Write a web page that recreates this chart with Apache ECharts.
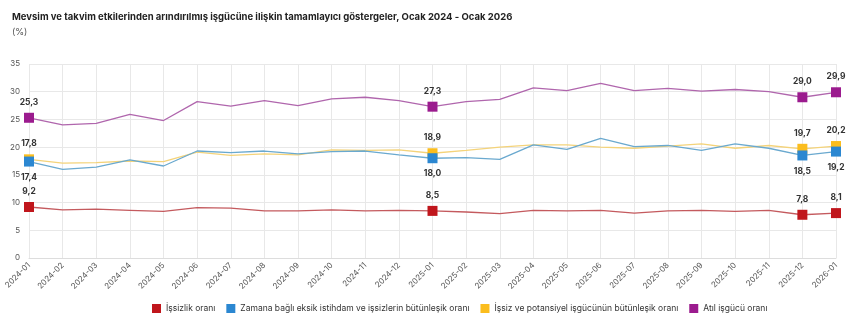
<!DOCTYPE html>
<html>
<head>
<meta charset="utf-8">
<script src="https://cdn.jsdelivr.net/npm/echarts@6/dist/echarts.min.js"></script>
<style>html,body{margin:0;padding:0;background:#fff}#c{width:850px;height:323px}</style>
</head>
<body>
<div id="c"></div>
<script>
const categories = ['2024-01','2024-02','2024-03','2024-04','2024-05','2024-06','2024-07','2024-08','2024-09','2024-10','2024-11','2024-12','2025-01','2025-02','2025-03','2025-04','2025-05','2025-06','2025-07','2025-08','2025-09','2025-10','2025-11','2025-12','2026-01'];
const issizlik = [9.2,8.7,8.8,8.6,8.4,9.1,9.0,8.5,8.5,8.7,8.5,8.6,8.5,8.3,8.0,8.6,8.5,8.6,8.1,8.5,8.6,8.4,8.6,7.8,8.1];
const zamana = [17.4,16.0,16.4,17.7,16.6,19.3,19.0,19.3,18.8,19.2,19.3,18.6,18.0,18.1,17.8,20.4,19.6,21.6,20.1,20.3,19.4,20.6,19.8,18.5,19.2];
const potansiyel = [17.8,17.1,17.2,17.5,17.4,19.1,18.5,18.8,18.6,19.5,19.4,19.5,18.9,19.4,20.0,20.4,20.4,20.0,19.8,20.2,20.6,19.8,20.3,19.7,20.2];
const atil = [25.3,24.0,24.3,25.9,24.8,28.2,27.4,28.4,27.5,28.7,29.0,28.4,27.3,28.2,28.6,30.7,30.2,31.5,30.2,30.6,30.1,30.4,30.0,29.0,29.9];
const markedIdx = [0,12,23,24];
const yTicks = [0,5,10,15,20,25,30,35];

const fmt = v => v.toFixed(1).replace('.', ',');

function build(name, vals, color, lineColor, pos, z) {
  return {
    name, type: 'line', z,
    data: vals.map((v, i) => markedIdx.includes(i)
      ? {value: v, symbol: 'rect', symbolSize: 10,
         label: {show: true, position: pos, distance: 6, formatter: fmt(v), fontSize: 8.5, fontWeight: 'bold', color: '#333', fontFamily: 'Inter'}}
      : {value: v, symbol: 'none'}),
    symbol: 'rect', showSymbol: true,
    itemStyle: {color},
    lineStyle: {color: lineColor, width: 1.3},
    emphasis: {disabled: true},
    animation: false
  };
}

const chart = echarts.init(document.getElementById('c'));
chart.setOption({
  animation: false,
  title: [
    {text: 'Mevsim ve takvim etkilerinden arındırılmış işgücüne ilişkin tamamlayıcı göstergeler, Ocak 2024 - Ocak 2026', left: 7, top: 7,
     textStyle: {fontSize: 9.5, fontWeight: 'bold', color: '#222', fontFamily: 'Inter'}},
    {text: '(%)', left: 7, top: 23, textStyle: {fontSize: 9, fontWeight: 'normal', color: '#555', fontFamily: 'Inter'}}
  ],
  grid: {left: 29, right: 14, top: 64, bottom: 65},
  legend: {
    bottom: 5, left: 147, itemWidth: 9, itemHeight: 9, itemGap: 11, icon: 'rect',
    textStyle: {fontSize: 8.5, color: '#333', fontFamily: 'Inter'},
    data: ['İşsizlik oranı','Zamana bağlı eksik istihdam ve işsizlerin bütünleşik oranı','İşsiz ve potansiyel işgücünün bütünleşik oranı','Atıl işgücü oranı']
  },
  xAxis: {
    type: 'category', data: categories, boundaryGap: false,
    axisLine: {lineStyle: {color: '#ddd'}}, axisTick: {show: false},
    axisLabel: {rotate: 45, fontSize: 8, color: '#555', interval: 0, margin: 6, fontFamily: 'Inter'},
    splitLine: {show: true, lineStyle: {color: '#e8e8e8'}}
  },
  yAxis: {
    type: 'value', min: yTicks[0], max: yTicks[yTicks.length-1], interval: 5,
    axisLine: {show: false}, axisTick: {show: false},
    axisLabel: {fontSize: 8, color: '#555', margin: 9, fontFamily: 'Inter'},
    splitLine: {lineStyle: {color: '#e8e8e8'}}
  },
  series: [
    build('İşsizlik oranı', issizlik, '#c0161c', '#c45a5e', 'top', 2),
    build('Zamana bağlı eksik istihdam ve işsizlerin bütünleşik oranı', zamana, '#2b87d1', '#6aa9cf', 'bottom', 4),
    build('İşsiz ve potansiyel işgücünün bütünleşik oranı', potansiyel, '#fbbd1e', '#f4d37a', 'top', 3),
    build('Atıl işgücü oranı', atil, '#9b1b8e', '#b066ad', 'top', 2)
  ]
});
</script>
</body>
</html>
